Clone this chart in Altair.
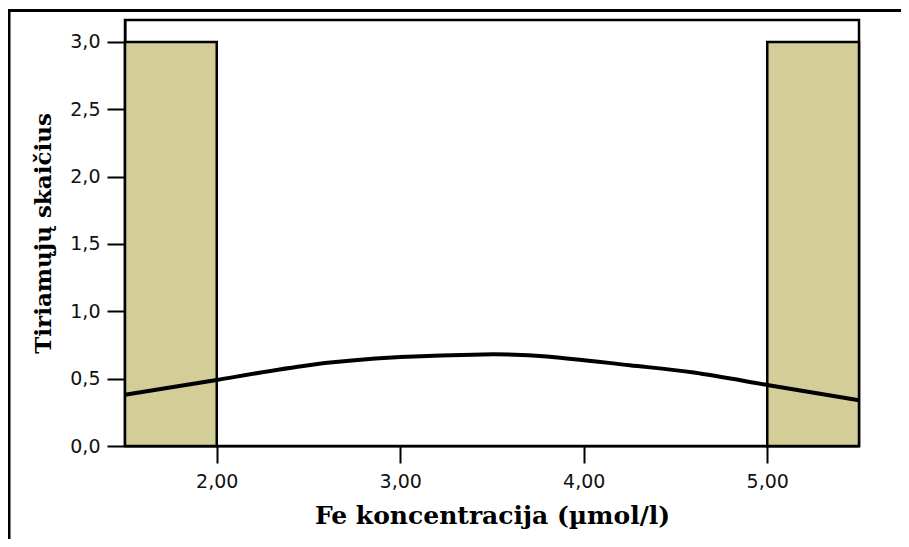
import altair as alt
import pandas as pd

# Histogram bins (Fe concentration, µmol/l) and counts
bin_start = [1.5, 5.0]
bin_end = [2.0, 5.5]
counts = [3, 3]

# Fitted normal curve
curve_x = [1.5, 2.0, 2.5, 3.0, 3.45, 3.8, 4.25, 4.6, 5.0, 5.5]
curve_y = [0.38, 0.49, 0.60, 0.66, 0.68, 0.665, 0.60, 0.545, 0.453, 0.34]

x_ticks = [2, 3, 4, 5]
y_ticks = [0, 0.5, 1.0, 1.5, 2.0, 2.5, 3.0]

bars = pd.DataFrame({"start": bin_start, "end": bin_end, "count": counts})
curve = pd.DataFrame({"x": curve_x, "y": curve_y})

xscale = alt.Scale(domain=[1.5, 5.5], nice=False, zero=False)
yscale = alt.Scale(domain=[0, 3.163], nice=False)

xaxis = alt.Axis(
    values=x_ticks,
    labelExpr="replace(format(datum.value, '.2f'), '.', ',')",
    title="Fe koncentracija (µmol/l)",
    titleX=367, titleY=69, titleBaseline="middle", titleAlign="center",
    titleFont="DejaVu Serif", titleFontWeight="bold", titleFontSize=25, titleColor="#000",
    labelFont="DejaVu Sans", labelFontSize=19, labelColor="#111", labelPadding=9,
    tickSize=17, tickWidth=2, tickColor="#000",
    domainColor="#000", domainWidth=2, grid=False,
)
yaxis = alt.Axis(
    values=y_ticks,
    labelExpr="replace(format(datum.value, '.1f'), '.', ',')",
    title="Tiriamųjų skaičius",
    titleX=-81.5, titleY=213, titleAngle=-90, titleBaseline="middle", titleAlign="center",
    titleFont="DejaVu Serif", titleFontWeight="bold", titleFontSize=23, titleColor="#000",
    labelFont="DejaVu Sans", labelFontSize=19, labelColor="#111", labelPadding=7,
    tickSize=18, tickWidth=2, tickColor="#000",
    domainColor="#000", domainWidth=2, grid=False,
)

hist = alt.Chart(bars).mark_rect(fill="#D3CD98", stroke="#000", strokeWidth=2.5).encode(
    x=alt.X("start:Q", scale=xscale, axis=xaxis),
    x2="end:Q",
    y=alt.Y("count:Q", scale=yscale, axis=yaxis),
    y2=alt.datum(0),
)

line = alt.Chart(curve).mark_line(color="#000", strokeWidth=4, interpolate="natural").encode(
    x=alt.X("x:Q", scale=xscale),
    y=alt.Y("y:Q", scale=yscale),
)

frame = alt.Chart(pd.DataFrame({"a": [0]})).mark_rect(
    fill=None, stroke="#000", strokeWidth=3
).encode(
    x=alt.value(-116), x2=alt.value(820), y=alt.value(-9.5), y2=alt.value(560)
)

chart = alt.layer(hist, line, frame).properties(
    width=734, height=426,
    autosize=alt.AutoSizeParams(type="none"),
    padding={"left": 117, "top": 12, "right": 42, "bottom": 93},
    background="white",
).configure_view(stroke="#000", strokeWidth=2.5)

chart.save("out.html", embed_options={"renderer": "svg", "actions": False})
